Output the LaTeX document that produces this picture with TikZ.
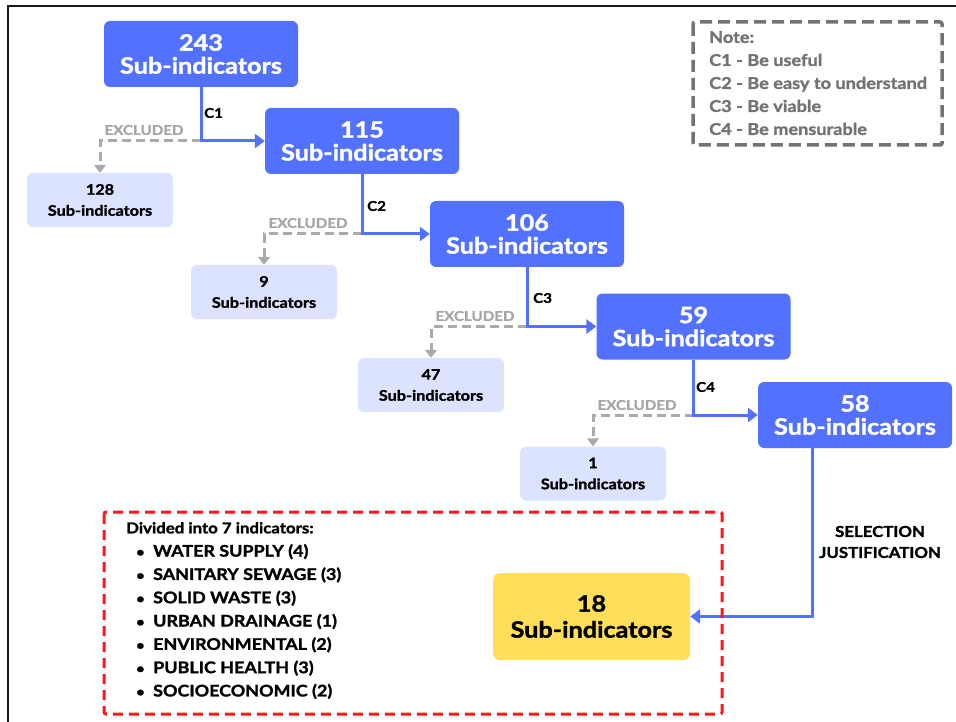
\documentclass[tikz,border=0pt]{standalone}
\usepackage{fontspec}
\setmainfont{Lato}[BoldFeatures={FakeStretch=1.12,FakeBold=1.5}]
\usetikzlibrary{arrows.meta,calc}
\definecolor{mblue}{HTML}{5271FF}
\definecolor{mlight}{HTML}{DCE3FF}
\definecolor{mgray}{HTML}{AAAAAA}
\definecolor{mgraytxt}{HTML}{A6A6A6}
\definecolor{mnote}{HTML}{737373}
\definecolor{mred}{HTML}{FF1616}
\definecolor{myellow}{HTML}{FFDE59}
\tikzset{
  bigbox/.style={fill=mblue, rounded corners=6pt, text=white, align=center,
    minimum width=194pt, minimum height=66pt, inner sep=0pt,
    font=\bfseries\fontsize{22.5}{23}\selectfont},
  smallbox/.style={fill=mlight, rounded corners=6pt, text=black, align=center,
    minimum width=146pt, minimum height=54pt, inner sep=0pt,
    font=\bfseries\fontsize{14.5}{21}\selectfont},
  flow/.style={draw=mblue, line width=3pt, -{Triangle[width=14pt,length=10pt]}},
  excl/.style={draw=mgray, line width=3pt, dash pattern=on 9pt off 5pt,
    -{Triangle[width=12pt,length=8pt]}},
  exlabel/.style={text=mgraytxt, font=\bfseries\fontsize{13.5}{15}\selectfont, inner sep=0pt},
  clabel/.style={text=black, font=\bfseries\fontsize{13.5}{15}\selectfont, inner sep=0pt, anchor=west},
}
\begin{document}
\begin{tikzpicture}[x=1pt, y=-1pt]
\useasboundingbox (0,0) rectangle (956,722);
% frame
\draw[line width=2.5pt, black!90] (8,722) -- (8,6) -- (956,6);

% main boxes
\node[bigbox] (A) at (201,54) {243\\Sub-indicators};
\node[bigbox] (B) at (362,141) {115\\Sub-indicators};
\node[bigbox] (C) at (527,234) {106\\Sub-indicators};
\node[bigbox] (D) at (693.5,326.5) {59\\Sub-indicators};
\node[bigbox] (E) at (855,415) {58\\Sub-indicators};

% excluded boxes
\node[smallbox] (e1) at (100,200) {128\\Sub-indicators};
\node[smallbox] (e2) at (264,292) {9\\Sub-indicators};
\node[smallbox] (e3) at (431,385) {47\\Sub-indicators};
\node[smallbox] (e4) at (593,473.5) {1\\Sub-indicators};

% final
\node[fill=myellow, rounded corners=7pt, minimum width=197pt, minimum height=87pt,
  inner sep=0pt, align=center, font=\bfseries\fontsize{22.5}{26}\selectfont] (F) at (591.5,616.5) {18\\Sub-indicators};

% junctions
\coordinate (j1) at (A.south |- B.west);
\coordinate (j2) at (B.south |- C.west);
\coordinate (j3) at (C.south |- D.west);
\coordinate (j4) at (D.south |- E.west);

% excluded dashed
\draw[excl] (j1) -| (e1.north);
\draw[excl] (j2) -| (e2.north);
\draw[excl] (j3) -| (e3.north);
\draw[excl] (j4) -| (e4.north);

% flow arrows
\draw[flow] (A.south) |- (B.west);
\draw[flow] (B.south) |- (C.west);
\draw[flow] (C.south) |- (D.west);
\draw[flow] (D.south) |- (E.west);
\coordinate (s5) at ($(E.south west)+(55,0)$);
\draw[flow] (s5) |- (F.east);

% labels
\node[clabel] (c1) at (204,113) {C1};
\node[clabel] (c2) at (367,206) {C2};
\node[clabel] (c3) at (533,298) {C3};
\node[clabel] (c4) at (696,387) {C4};
\node[exlabel] (x1) at (144,130) {EXCLUDED};
\node[exlabel] (x2) at (308,223) {EXCLUDED};
\node[exlabel] (x3) at (475,316) {EXCLUDED};
\node[exlabel] (x4) at (637,405) {EXCLUDED};
\node[align=center, inner sep=0pt, font=\bfseries\fontsize{15}{21}\selectfont] (sj) at (880,542) {SELECTION\\JUSTIFICATION};

% note box
\draw[mnote, line width=3.5pt, dash pattern=on 12pt off 6pt, rounded corners=2pt] (693,22) rectangle (942,145);
\node[anchor=north west, align=left, inner sep=0pt, text=mnote,
  font=\bfseries\fontsize{16.2}{23}\selectfont] (note) at (709,31)
  {Note:\\C1 - Be useful\\C2 - Be easy to understand\\C3 - Be viable\\C4 - Be mensurable};

% red dashed box
\draw[mred, line width=3pt, dash pattern=on 10pt off 6pt, rounded corners=2pt] (104,512) rectangle (722,714);
\node[anchor=north west, align=left, inner sep=0pt,
  font=\bfseries\fontsize{16}{23.3}\selectfont] (list) at (126,522)
  {{\fontsize{15}{23.3}\selectfont Divided into 7 indicators:}\\
   \hspace*{10pt}\makebox[17pt][l]{\fontsize{13}{13}\selectfont •}WATER SUPPLY (4)\\
   \hspace*{10pt}\makebox[17pt][l]{\fontsize{13}{13}\selectfont •}SANITARY SEWAGE (3)\\
   \hspace*{10pt}\makebox[17pt][l]{\fontsize{13}{13}\selectfont •}SOLID WASTE (3)\\
   \hspace*{10pt}\makebox[17pt][l]{\fontsize{13}{13}\selectfont •}URBAN DRAINAGE (1)\\
   \hspace*{10pt}\makebox[17pt][l]{\fontsize{13}{13}\selectfont •}ENVIRONMENTAL (2)\\
   \hspace*{10pt}\makebox[17pt][l]{\fontsize{13}{13}\selectfont •}PUBLIC HEALTH (3)\\
   \hspace*{10pt}\makebox[17pt][l]{\fontsize{13}{13}\selectfont •}SOCIOECONOMIC (2)};
\end{tikzpicture}
\end{document}
